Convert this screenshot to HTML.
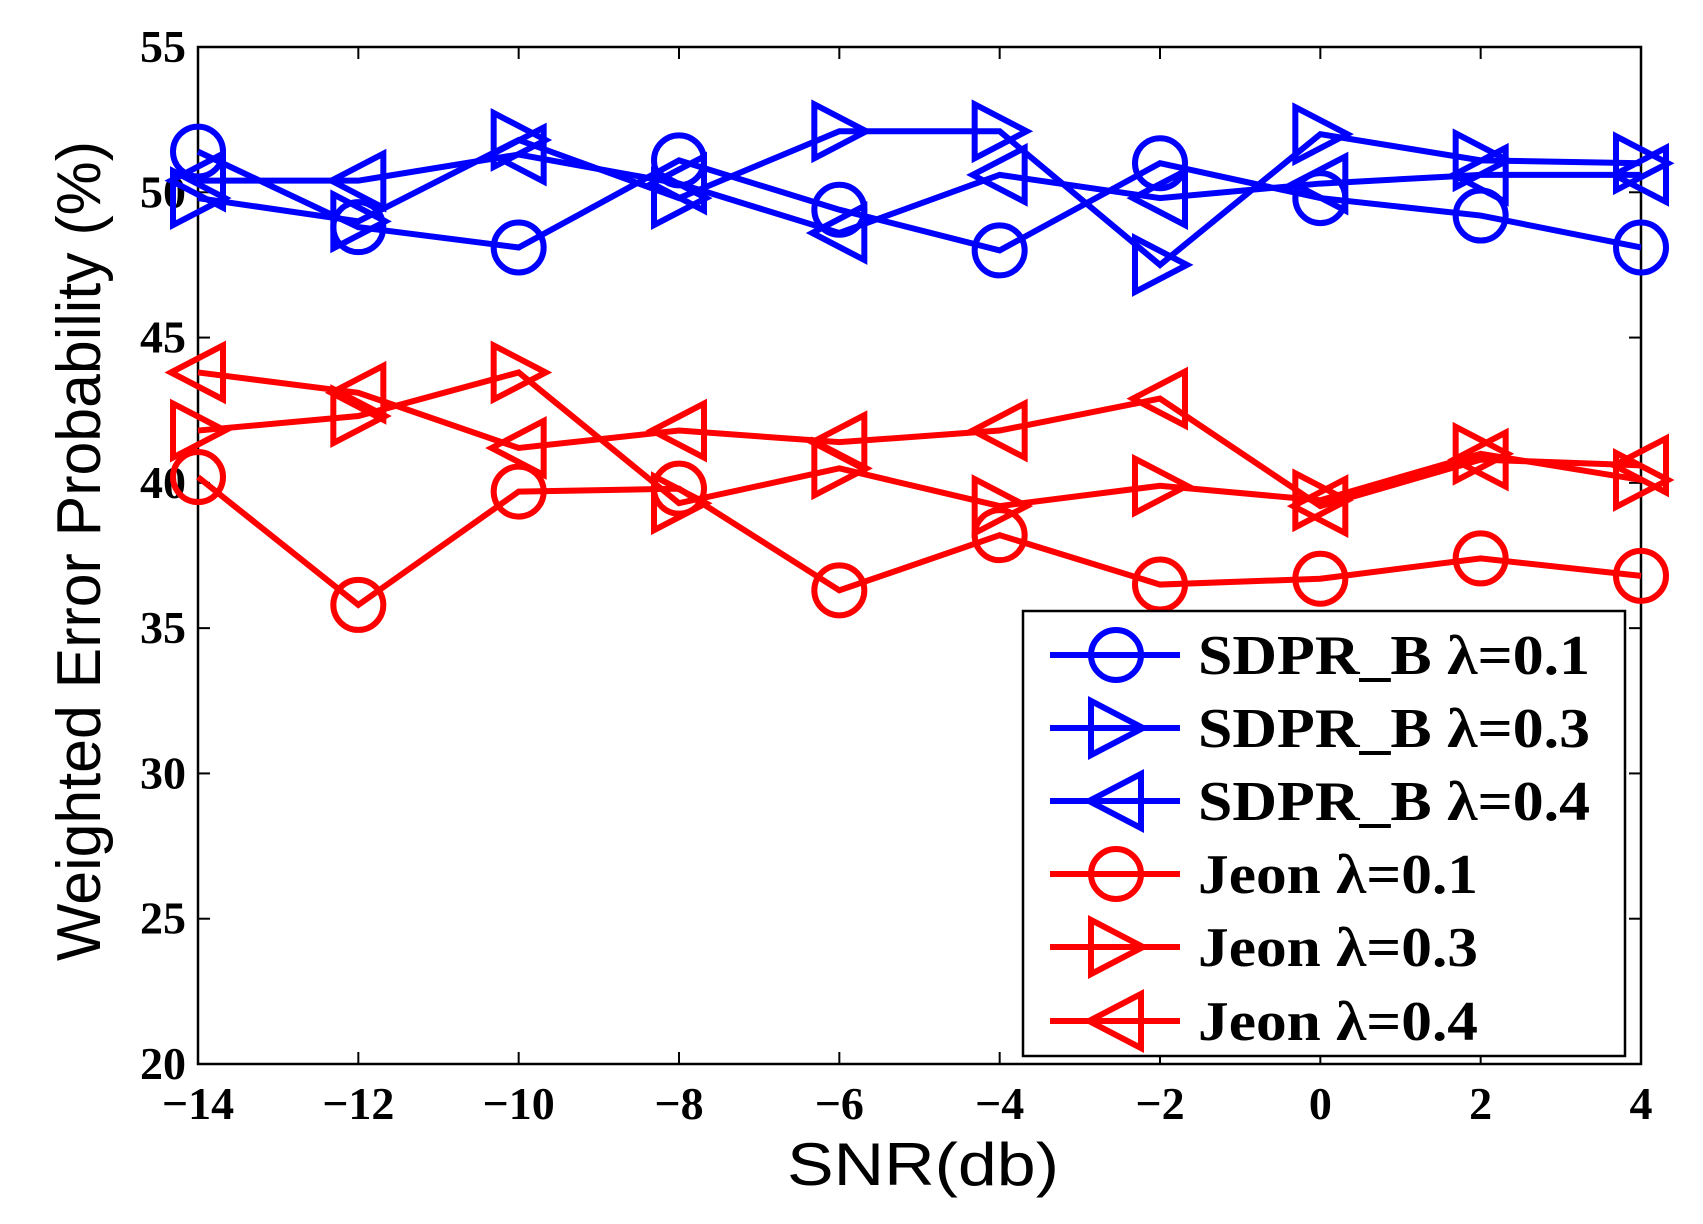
<!DOCTYPE html>
<html><head><meta charset="utf-8"><style>body{margin:0;background:#fff}svg{display:block}</style></head>
<body>
<svg id="chart" width="1703" height="1224" xmlns="http://www.w3.org/2000/svg"></svg>
<script>
const snr = [-14,-12,-10,-8,-6,-4,-2,0,2,4];
const sdpr01 = [51.4,48.8,48.1,51.1,49.4,48.0,51.0,49.8,49.2,48.1];
const sdpr03 = [49.8,49.0,51.8,49.8,52.1,52.1,47.5,52.0,51.1,51.0];
const sdpr04 = [50.4,50.4,51.3,50.3,48.6,50.6,49.8,50.3,50.6,50.6];
const jeon01 = [40.2,35.8,39.7,39.8,36.3,38.2,36.5,36.7,37.4,36.8];
const jeon03 = [41.8,42.3,43.8,39.3,40.5,39.2,39.9,39.4,41.0,40.1];
const jeon04 = [43.8,43.1,41.2,41.8,41.4,41.8,42.9,39.2,40.8,40.6];
const xTicks = [-14,-12,-10,-8,-6,-4,-2,0,2,4];
const yTicks = [20,25,30,35,40,45,50,55];
const seriesNames = ["SDPR_B λ=0.1","SDPR_B λ=0.3","SDPR_B λ=0.4","Jeon λ=0.1","Jeon λ=0.3","Jeon λ=0.4"];

const L=198,R=1641,T=47,B=1064;
const xs=v=>L+(v+14)/18*(R-L);
const ys=v=>B-(v-20)/35*(B-T);
const svg=document.getElementById('chart');
const NS='http://www.w3.org/2000/svg';
function mk(tag,attrs,parent){const e=document.createElementNS(NS,tag);for(const k in attrs)e.setAttribute(k,attrs[k]);(parent||svg).appendChild(e);return e;}

const axes=mk('g',{});


mk('rect',{x:L,y:T,width:R-L,height:B-T,fill:'none',stroke:'#000','stroke-width':2.5},axes);
xTicks.forEach(t=>{
  const x=xs(t);
  mk('line',{x1:x,y1:B,x2:x,y2:B-12,stroke:'#000','stroke-width':2},axes);
  mk('line',{x1:x,y1:T,x2:x,y2:T+12,stroke:'#000','stroke-width':2},axes);
  const tx=mk('text',{x:x,y:B+55,'text-anchor':'middle','font-family':'Liberation Serif, serif','font-weight':'bold','font-size':46},axes);
  tx.textContent=t<0?'\u2212'+(-t):String(t);
  
  
});
yTicks.forEach(t=>{
  const y=ys(t);
  mk('line',{x1:L,y1:y,x2:L+12,y2:y,stroke:'#000','stroke-width':2},axes);
  mk('line',{x1:R,y1:y,x2:R-12,y2:y,stroke:'#000','stroke-width':2},axes);
  const tx=mk('text',{x:L-12,y:y+15,'text-anchor':'end','font-family':'Liberation Serif, serif','font-weight':'bold','font-size':46},axes);
  tx.textContent=String(t);
  
  
});
const xl=mk('text',{x:923,y:1185,'text-anchor':'middle','font-family':'Liberation Sans, sans-serif','font-size':60,textLength:272,lengthAdjust:'spacingAndGlyphs'});
xl.textContent='SNR(db)';


const yl=mk('text',{x:0,y:0,'text-anchor':'middle','font-family':'Liberation Sans, sans-serif','font-size':62,textLength:820,lengthAdjust:'spacingAndGlyphs',transform:'translate(100,551) rotate(-90)'});
yl.textContent='Weighted Error Probability (%)';



function marker(g,type,x,y,color){
  const r=25;
  if(type==='o') mk('circle',{cx:x,cy:y,r:r,fill:'none',stroke:color,'stroke-width':6},g);
  else if(type==='>') mk('polygon',{points:`${x+r+2},${y} ${x-r},${y-r-2} ${x-r},${y+r+2}`,fill:'none',stroke:color,'stroke-width':6},g);
  else mk('polygon',{points:`${x-r-2},${y} ${x+r},${y-r-2} ${x+r},${y+r+2}`,fill:'none',stroke:color,'stroke-width':6},g);
}
const series=[[sdpr01,'#0000ff','o'],[sdpr03,'#0000ff','>'],[sdpr04,'#0000ff','<'],[jeon01,'#ff0000','o'],[jeon03,'#ff0000','>'],[jeon04,'#ff0000','<']];
const slugs=['sdpr-b-0-1','sdpr-b-0-3','sdpr-b-0-4','jeon-0-1','jeon-0-3','jeon-0-4'];
series.forEach((s,i)=>{
  const g=mk('g',{});
  
  
  mk('polyline',{points:s[0].map((v,j)=>xs(snr[j])+','+ys(v)).join(' '),fill:'none',stroke:s[1],'stroke-width':6,'stroke-linejoin':'miter'},g);
  s[0].forEach((v,j)=>marker(g,s[2],xs(snr[j]),ys(v),s[1]));
});

const lg=mk('g',{});


mk('rect',{x:1023,y:611,width:602,height:445,fill:'#fff',stroke:'#000','stroke-width':2.5},lg);
const ly=[655,728,801,874,947,1021];
series.forEach((s,i)=>{
  const e=mk('g',{},lg);
  
  
  mk('line',{x1:1050,y1:ly[i],x2:1180,y2:ly[i],stroke:s[1],'stroke-width':6},e);
  marker(e,s[2],1116,ly[i],s[1]);
  const t=mk('text',{x:1198,y:ly[i]+19,'font-family':'Liberation Serif, serif','font-weight':'bold','font-size':56,textLength:i<3?392:280,lengthAdjust:'spacingAndGlyphs'},e);
  t.textContent=seriesNames[i];
});
</script>
</body></html>
